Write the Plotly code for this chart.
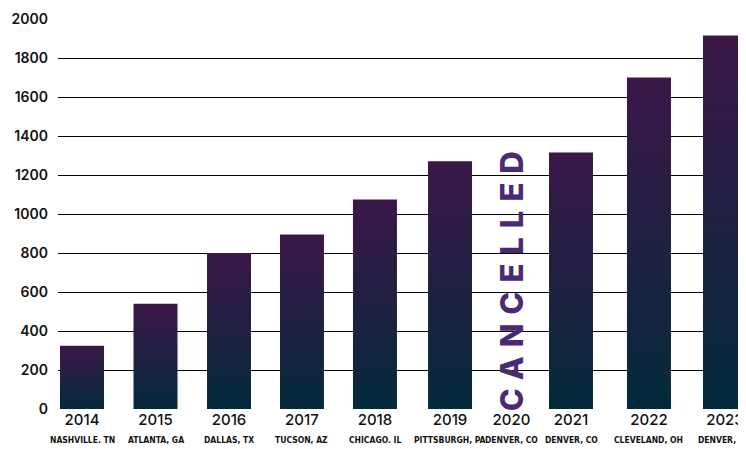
import plotly.graph_objects as go

years = ["2014", "2015", "2016", "2017", "2018", "2019", "2020", "2021", "2022", "2023"]
cities = ["NASHVILLE. TN", "ATLANTA, GA", "DALLAS, TX", "TUCSON, AZ", "CHICAGO. IL",
          "PITTSBURGH, PA", "DENVER, CO", "DENVER, CO", "CLEVELAND, OH", "DENVER, CO"]
attendance = [325, 540, 800, 895, 1075, 1270, None, 1315, 1700, 1915]
cancelled_label = "CANCELLED"
y_ticks = [0, 200, 400, 600, 800, 1000, 1200, 1400, 1600, 1800, 2000]

# layout: horizontal slot of each year (uneven spacing as in the original)
slot_pos = [0, 1.0, 2.0, 2.993, 3.986, 5.007, 5.844, 6.653, 7.714, 8.748]
half_w = 0.2993

TOP = "#3b1748"
BOTTOM = "#032a3a"

fig = go.Figure()
for x, v in zip(slot_pos, attendance):
    if v is None:
        continue
    fig.add_trace(go.Scatter(
        x=[x - half_w, x + half_w, x + half_w, x - half_w, x - half_w],
        y=[0, 0, v, v, 0],
        mode="lines", line=dict(width=0, color=TOP),
        fill="toself",
        fillgradient=dict(type="vertical", colorscale=[[0, BOTTOM], [1, TOP]]),
        hoverinfo="skip", showlegend=False,
    ))

for x, v, c in zip(slot_pos, attendance, cities):
    fig.add_annotation(x=x, y=0, xref="x", yref="y", yanchor="top", yshift=-24,
                       text=c, showarrow=False,
                       font=dict(family="Liberation Sans Narrow, DejaVu Sans Condensed", size=8.5,
                                 color="#111111", weight="bold"))
    if v is None:
        fig.add_annotation(x=x, y=678, xref="x", yref="y", textangle=-90,
                           text='<span style="letter-spacing:9px">' + cancelled_label + '</span>',
                           showarrow=False,
                           font=dict(family="Inter", size=31, color="#4a2a75", weight=800))

# page body has an 8px default margin, so the figure is sized to end at the window edge
fig.update_layout(
    template="none",
    width=738, height=441,
    margin=dict(l=50, r=0, t=11, b=40, autoexpand=False),
    plot_bgcolor="white", paper_bgcolor="white",
    xaxis=dict(range=[-0.3265, 9.034], tickvals=slot_pos, ticktext=years, automargin=False,
               showgrid=False, zeroline=False, showline=False,
               tickfont=dict(family="Inter", size=15, color="#111111", weight=500),
               ticks="", ticklabelstandoff=0),
    yaxis=dict(range=[0, 2000], tickvals=y_ticks, showgrid=True, gridcolor="#000000",
               gridwidth=1, zeroline=False, showline=False, ticks="", automargin=False,
               tickfont=dict(family="Inter", size=14, color="#111111", weight=600),
               ticklabelstandoff=9),
)

fig.write_html("out.html")
